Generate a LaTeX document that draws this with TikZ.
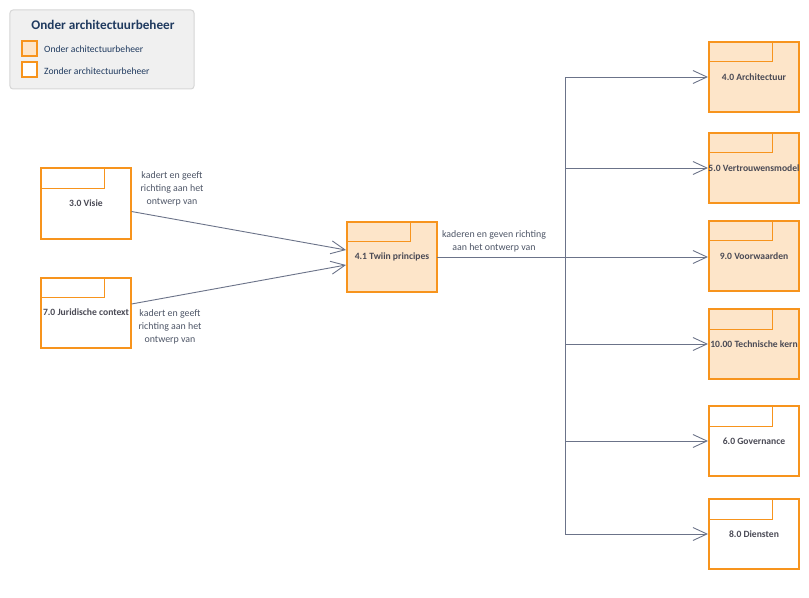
\documentclass[tikz,border=0pt]{standalone}
\usepackage{fontspec}
\setmainfont{Carlito}
\usetikzlibrary{arrows.meta,calc}
\definecolor{org}{HTML}{F7941D}
\definecolor{orgfill}{HTML}{FDE5C9}
\definecolor{conn}{HTML}{6B7389}
\definecolor{ntext}{HTML}{4A4A55}
\definecolor{ltext}{HTML}{4D5566}
\definecolor{legbg}{HTML}{F0F0F0}
\definecolor{legborder}{HTML}{D6D6D6}
\definecolor{legtitle}{HTML}{1F3A5F}
\tikzset{
  pkg/.style={draw=org, line width=2bp, minimum width=90bp, minimum height=70bp, inner sep=0pt},
  pkgf/.style={pkg, fill=orgfill},
  nlbl/.style={font=\fontsize{9.6bp}{11bp}\selectfont\bfseries, text=ntext, inner sep=0pt},
  elbl/.style={font=\fontsize{9.9bp}{13bp}\selectfont, text=ltext, align=center, inner sep=0pt},
  connector/.style={draw=conn, line width=0.9bp, -{Straight Barb[length=14bp,width=13bp,line width=0.9bp]}},
  tabline/.style={draw=org, line width=1bp},
  swatch/.style={draw=org, line width=2bp, minimum width=15bp, minimum height=15bp, inner sep=0pt},
  leglbl/.style={font=\fontsize{9.6bp}{11bp}\selectfont, text=legtitle, anchor=west, inner sep=0pt}
}
\newcommand{\pkgtab}[1]{\draw[tabline] ($(#1.north west)+(0,21)$) -| ($(#1.north west)+(64,0)$);}
\begin{document}
\begin{tikzpicture}[x=1bp,y=-1bp]
\useasboundingbox (0,0) rectangle (809,598);
% legend
\node[draw=legborder, fill=legbg, rounded corners=3bp, line width=1bp, minimum width=184bp, minimum height=79bp, inner sep=0pt] (leg) at (102,49.5) {};
\node[font=\fontsize{13.2bp}{15bp}\selectfont\bfseries, text=legtitle, inner sep=0pt] (legt) at (103,25) {Onder architectuurbeheer};
\node[swatch, fill=orgfill] (sw1) at (29,49) {};
\node[swatch, fill=white] (sw2) at (29,70) {};
\node[leglbl] (l1) at (44,49) {Onder achitectuurbeheer};
\node[leglbl] (l2) at (44,71) {Zonder architectuurbeheer};
% left nodes
\node[pkg, fill=white, label={[nlbl]center:3.0 Visie}] (visie) at (86,203.5) {};
\node[pkg, fill=white, label={[nlbl]center:7.0 Juridische context}] (jur) at (86,312.5) {};
\node[pkgf, label={[nlbl]center:4.1 Twiin principes}] (twiin) at (392,257) {};
% right nodes
\node[pkgf, label={[nlbl]center:4.0 Architectuur}] (arch) at (754,77) {};
\node[pkgf, label={[nlbl]center:5.0 Vertrouwensmodel}] (vert) at (754,168) {};
\node[pkgf, label={[nlbl]center:9.0 Voorwaarden}] (voor) at (754,256) {};
\node[pkgf, label={[nlbl]center:10.00 Technische kern}] (tech) at (754,344) {};
\node[pkg, fill=white, label={[nlbl]center:6.0 Governance}] (gov) at (754,441) {};
\node[pkg, fill=white, label={[nlbl]center:8.0 Diensten}] (dien) at (754,534) {};
\foreach \n in {visie,jur,twiin,arch,vert,voor,tech,gov,dien}{\pkgtab{\n}}
% connectors
\coordinate (vs) at (131.5,211.5);
\coordinate (vt) at (346,250);
\coordinate (js) at (131.5,304);
\coordinate (jt) at (346,265);
\draw[connector] (vs) -- (vt);
\draw[connector] (js) -- (jt);
\coordinate (junc) at (565.5,257);
\coordinate (tstart) at (437,257);
\draw[connector] (tstart) -- (junc) |- (arch.west);
\draw[connector] (junc) |- (vert.west);
\draw[connector] (junc) -- (voor.west |- junc);
\draw[connector] (junc) |- (tech.west);
\draw[connector] (junc) |- (gov.west);
\draw[connector] (junc) |- (dien.west);
% labels
\node[elbl] (lv) at (172,189) {kadert en geeft\\richting aan het\\ontwerp van};
\node[elbl] (lj) at (170,327) {kadert en geeft\\richting aan het\\ontwerp van};
\node[elbl] (lt) at (494,241) {kaderen en geven richting\\aan het ontwerp van};
\end{tikzpicture}
\end{document}
